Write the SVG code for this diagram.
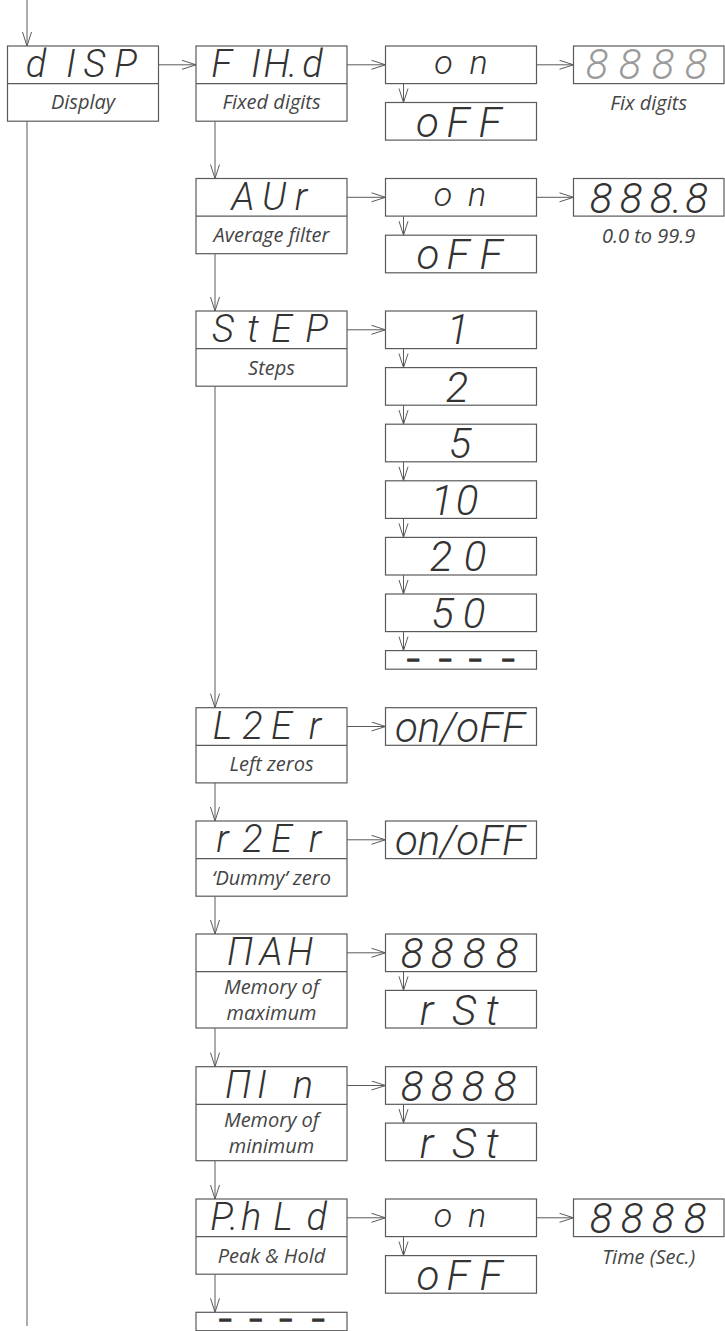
<svg xmlns="http://www.w3.org/2000/svg" width="725" height="1331" viewBox="0 0 725 1331">
<defs>
<style>
.bx{fill:#fff;stroke:#5a5a5a;stroke-width:1.2}
.dv{stroke:#5a5a5a;stroke-width:1.2}
.c{stroke:#5a5a5a;stroke-width:1;fill:none}
.s{font-family:Roboto,"DejaVu Sans",sans-serif;font-style:italic;font-weight:300;fill:#333;text-anchor:middle}
.p{font-size:38px}
.v{font-size:42px}
.lo{font-size:34px}
.g{fill:#9a9a9a}
.d{font-family:Roboto,"DejaVu Sans",sans-serif;font-weight:700;font-size:16px;fill:#333;stroke:#333;stroke-width:1.4;text-anchor:middle}
.l{font-family:"Open Sans",Lato,sans-serif;font-style:italic;font-size:20px;fill:#454545;text-anchor:middle}
</style>
<marker id="ah" markerWidth="16" markerHeight="12" refX="15" refY="5" orient="auto" markerUnits="userSpaceOnUse">
<path d="M1,0.5 L15,5 L1,9.5" fill="none" stroke="#5a5a5a" stroke-width="1"/>
</marker>
</defs>
<rect width="725" height="1331" fill="#fff"/>

<g id="connectors">
<line class="c" x1="27" y1="0" x2="27" y2="46" marker-end="url(#ah)"/>
<line class="c" x1="27" y1="121.2" x2="27" y2="1326"/>
<line class="c" x1="158.5" y1="64.8" x2="196" y2="64.8" marker-end="url(#ah)"/>
<line class="c" x1="347" y1="64.8" x2="385.5" y2="64.8" marker-end="url(#ah)"/>
<line class="c" x1="536.5" y1="64.8" x2="573.5" y2="64.8" marker-end="url(#ah)"/>
<line class="c" x1="403.5" y1="83.6" x2="403.5" y2="102.5" marker-end="url(#ah)"/>
<line class="c" x1="215" y1="121.2" x2="215" y2="178.5" marker-end="url(#ah)"/>
<line class="c" x1="347" y1="197.3" x2="385.5" y2="197.3" marker-end="url(#ah)"/>
<line class="c" x1="536.5" y1="197.3" x2="573.5" y2="197.3" marker-end="url(#ah)"/>
<line class="c" x1="403.5" y1="216.1" x2="403.5" y2="235.2" marker-end="url(#ah)"/>
<line class="c" x1="215" y1="253.7" x2="215" y2="311" marker-end="url(#ah)"/>
<line class="c" x1="347" y1="329.8" x2="385.5" y2="329.8" marker-end="url(#ah)"/>
<line class="c" x1="403.5" y1="348.6" x2="403.5" y2="367.6" marker-end="url(#ah)"/>
<line class="c" x1="403.5" y1="405.2" x2="403.5" y2="424.2" marker-end="url(#ah)"/>
<line class="c" x1="403.5" y1="461.8" x2="403.5" y2="480.8" marker-end="url(#ah)"/>
<line class="c" x1="403.5" y1="518.4" x2="403.5" y2="537.4" marker-end="url(#ah)"/>
<line class="c" x1="403.5" y1="575" x2="403.5" y2="594" marker-end="url(#ah)"/>
<line class="c" x1="403.5" y1="631.6" x2="403.5" y2="650.6" marker-end="url(#ah)"/>
<line class="c" x1="215" y1="386.2" x2="215" y2="707.7" marker-end="url(#ah)"/>
<line class="c" x1="347" y1="726.5" x2="385.5" y2="726.5" marker-end="url(#ah)"/>
<line class="c" x1="215" y1="782.9" x2="215" y2="821" marker-end="url(#ah)"/>
<line class="c" x1="347" y1="839.8" x2="385.5" y2="839.8" marker-end="url(#ah)"/>
<line class="c" x1="215" y1="896.2" x2="215" y2="934" marker-end="url(#ah)"/>
<line class="c" x1="347" y1="952.8" x2="385.5" y2="952.8" marker-end="url(#ah)"/>
<line class="c" x1="403.5" y1="971.6" x2="403.5" y2="990.4" marker-end="url(#ah)"/>
<line class="c" x1="215" y1="1028" x2="215" y2="1066.7" marker-end="url(#ah)"/>
<line class="c" x1="347" y1="1085.5" x2="385.5" y2="1085.5" marker-end="url(#ah)"/>
<line class="c" x1="403.5" y1="1104.3" x2="403.5" y2="1123.1" marker-end="url(#ah)"/>
<line class="c" x1="215" y1="1160.7" x2="215" y2="1199" marker-end="url(#ah)"/>
<line class="c" x1="347" y1="1217.8" x2="385.5" y2="1217.8" marker-end="url(#ah)"/>
<line class="c" x1="536.5" y1="1217.8" x2="573.5" y2="1217.8" marker-end="url(#ah)"/>
<line class="c" x1="403.5" y1="1236.6" x2="403.5" y2="1255.6" marker-end="url(#ah)"/>
<line class="c" x1="215" y1="1274.2" x2="215" y2="1312.3" marker-end="url(#ah)"/>
</g>

<g id="disp">
<rect class="bx" x="7.5" y="46" width="151" height="75.2"/>
<line class="dv" x1="7.5" y1="83.6" x2="158.5" y2="83.6"/>
<text class="s p" x="36 71 94.5 125.5" y="77">dISP</text>
<text class="l" x="83" y="109">Display</text>
</g>

<g id="fixd">
<rect class="bx" x="196" y="46" width="151" height="75.2"/>
<line class="dv" x1="196" y1="83.6" x2="347" y2="83.6"/>
<text class="s p" x="221.5 256 276.5 293 312.5" y="77">FIH.d</text>
<text class="l" x="271.5" y="109">Fixed digits</text>
</g>
<g id="fixd-on">
<rect class="bx" x="385.5" y="46" width="151" height="37.6"/>
<text class="s lo" x="443.5 478.5" y="73.5">on</text>
</g>
<g id="fixd-off">
<rect class="bx" x="385.5" y="102.5" width="151" height="37.6"/>
<text class="s v" x="427.5 458 490" y="136.5">oFF</text>
</g>
<g id="fixd-digits">
<rect class="bx" x="573.5" y="46" width="150.5" height="37.6"/>
<text class="s v g" x="597 630 663 696" y="78.5">8888</text>
<text class="l" x="648.7" y="110">Fix digits</text>
</g>

<g id="avr">
<rect class="bx" x="196" y="178.5" width="151" height="75.2"/>
<line class="dv" x1="196" y1="216.1" x2="347" y2="216.1"/>
<text class="s p" x="243 274 301" y="209.5">AUr</text>
<text class="l" x="271.5" y="242">Average filter</text>
</g>
<g id="avr-on">
<rect class="bx" x="385.5" y="178.5" width="151" height="37.6"/>
<text class="s lo" x="443 477" y="206">on</text>
</g>
<g id="avr-off">
<rect class="bx" x="385.5" y="235.2" width="151" height="37.6"/>
<text class="s v" x="428 458 491" y="269.2">oFF</text>
</g>
<g id="avr-val">
<rect class="bx" x="573.5" y="178.5" width="150.5" height="37.6"/>
<text class="s v" x="601 631 661 677 696.5" y="212.5">888.8</text>
<text class="l" x="648.7" y="243">0.0 to 99.9</text>
</g>

<g id="step">
<rect class="bx" x="196" y="311" width="151" height="75.2"/>
<line class="dv" x1="196" y1="348.6" x2="347" y2="348.6"/>
<text class="s p" x="223 253 281.5 316.5" y="342">StEP</text>
<text class="l" x="271.5" y="374.5">Steps</text>
</g>
<g id="step-1">
<rect class="bx" x="385.5" y="311" width="151" height="37.6"/>
<text class="s v" x="458" y="344">1</text>
</g>
<g id="step-2">
<rect class="bx" x="385.5" y="367.6" width="151" height="37.6"/>
<text class="s v" x="457" y="401.6">2</text>
</g>
<g id="step-5">
<rect class="bx" x="385.5" y="424.2" width="151" height="37.6"/>
<text class="s v" x="460" y="458.2">5</text>
</g>
<g id="step-10">
<rect class="bx" x="385.5" y="480.8" width="151" height="37.6"/>
<text class="s v" x="442 467" y="514.8">10</text>
</g>
<g id="step-20">
<rect class="bx" x="385.5" y="537.4" width="151" height="37.6"/>
<text class="s v" x="441 475" y="571.4">20</text>
</g>
<g id="step-50">
<rect class="bx" x="385.5" y="594" width="151" height="37.6"/>
<text class="s v" x="442.5 474" y="628">50</text>
</g>
<g id="step-none">
<rect class="bx" x="385.5" y="650.6" width="151" height="18.6"/>
<text class="d" x="413 445 475 508" y="665.5">————</text>
</g>

<g id="lzer">
<rect class="bx" x="196" y="707.7" width="151" height="75.2"/>
<line class="dv" x1="196" y1="745.3" x2="347" y2="745.3"/>
<text class="s p" x="222.5 252.5 281.5 315" y="738.7">L2Er</text>
<text class="l" x="271.5" y="771.2">Left zeros</text>
</g>
<g id="lzer-val">
<rect class="bx" x="385.5" y="707.7" width="151" height="37.6"/>
<text class="s v" x="460" y="741.7">on/oFF</text>
</g>

<g id="rzer">
<rect class="bx" x="196" y="821" width="151" height="75.2"/>
<line class="dv" x1="196" y1="858.6" x2="347" y2="858.6"/>
<text class="s p" x="222.5 252.5 281.5 315" y="852">r2Er</text>
<text class="l" x="271.5" y="884.5">‘Dummy’ zero</text>
</g>
<g id="rzer-val">
<rect class="bx" x="385.5" y="821" width="151" height="37.6"/>
<text class="s v" x="460" y="855">on/oFF</text>
</g>

<g id="max">
<rect class="bx" x="196" y="934" width="151" height="94"/>
<line class="dv" x1="196" y1="971.6" x2="347" y2="971.6"/>
<text class="s p" x="240 271 300" y="965">ΠAH</text>
<text class="l" x="271.5" y="993.5">Memory of</text>
<text class="l" x="271.5" y="1020">maximum</text>
</g>
<g id="max-val">
<rect class="bx" x="385.5" y="934" width="151" height="37.6"/>
<text class="s v" x="412 442 474 507" y="968">8888</text>
</g>
<g id="max-rst">
<rect class="bx" x="385.5" y="990.4" width="151" height="37.6"/>
<text class="s v" x="426.7 464 492" y="1025.4">rSt</text>
</g>

<g id="min">
<rect class="bx" x="196" y="1066.7" width="151" height="94"/>
<line class="dv" x1="196" y1="1104.3" x2="347" y2="1104.3"/>
<text class="s p" x="238 262 303" y="1097.7">ΠIn</text>
<text class="l" x="271.5" y="1127">Memory of</text>
<text class="l" x="271.5" y="1152.5">minimum</text>
</g>
<g id="min-val">
<rect class="bx" x="385.5" y="1066.7" width="151" height="37.6"/>
<text class="s v" x="412 442 473 505" y="1100.7">8888</text>
</g>
<g id="min-rst">
<rect class="bx" x="385.5" y="1123.1" width="151" height="37.6"/>
<text class="s v" x="426.7 464 492" y="1158.1">rSt</text>
</g>

<g id="phld">
<rect class="bx" x="196" y="1199" width="151" height="75.2"/>
<line class="dv" x1="196" y1="1236.6" x2="347" y2="1236.6"/>
<text class="s p" x="221.7 234 251 283 316.7" y="1230">P.hLd</text>
<text class="l" x="271.5" y="1262.5">Peak &amp; Hold</text>
</g>
<g id="phld-on">
<rect class="bx" x="385.5" y="1199" width="151" height="37.6"/>
<text class="s lo" x="443 477" y="1226.5">on</text>
</g>
<g id="phld-off">
<rect class="bx" x="385.5" y="1255.6" width="151" height="37.6"/>
<text class="s v" x="428 458 491" y="1289.6">oFF</text>
</g>
<g id="phld-time">
<rect class="bx" x="573.5" y="1199" width="150.5" height="37.6"/>
<text class="s v" x="601 632 663 695" y="1233.3">8888</text>
<text class="l" x="648.7" y="1264">Time (Sec.)</text>
</g>

<g id="end">
<rect class="bx" x="196" y="1312.3" width="151" height="18.4"/>
<text class="d" x="225 255.5 285.5 318" y="1326.3">————</text>
</g>
</svg>
